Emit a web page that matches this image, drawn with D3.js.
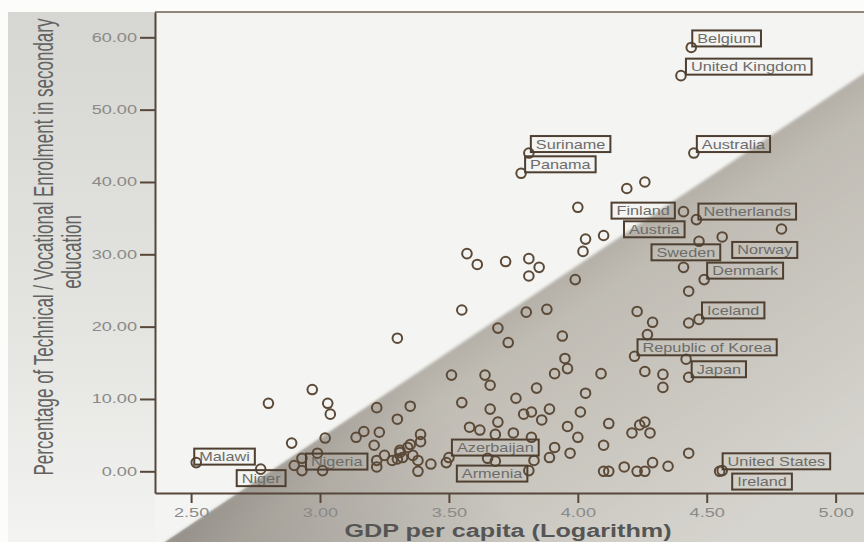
<!DOCTYPE html>
<html>
<head>
<meta charset="utf-8">
<script src="https://cdn.jsdelivr.net/npm/d3@7"></script>
<style>
body { margin: 0; background: #fff; }
svg { display: block; }
</style>
</head>
<body>
<svg></svg>
<script>
var width = 864;
var height = 542;
var svg = d3.select("svg");
svg.attr('width', width).attr('height', height);

// unlabelled countries: log10 GDP per capita, % technical/vocational enrolment
var gdpLog = [4.19, 4.26, 4.00, 4.79, 4.10, 4.03, 4.02, 4.43, 3.57, 3.61, 3.72, 3.81, 3.85, 3.81, 3.99,
  3.55, 3.80, 3.88, 4.23, 4.29, 4.43, 3.69, 3.73, 3.94, 4.27, 3.30, 4.42, 3.95, 3.96, 3.91, 4.09,
  4.26, 4.33, 4.33, 3.51, 3.64, 3.66, 3.84, 4.03, 3.76, 3.55, 3.66, 3.89, 4.01, 3.79, 3.82, 3.86,
  3.69, 3.96, 4.12, 4.21, 4.24, 4.26, 4.28, 3.58, 3.62, 3.68, 3.75, 3.82, 4.00, 3.91, 4.10, 4.43,
  4.29, 4.35, 4.18, 4.23, 4.26, 4.10, 4.12, 3.97, 3.89, 3.83, 3.65, 3.68, 3.35, 3.30, 3.39, 3.39,
  3.35, 3.34, 3.31, 3.36, 3.32, 3.30, 3.38, 3.43, 3.38, 3.49, 2.97, 2.80, 3.03, 3.04, 3.22, 2.89,
  3.02, 3.17, 3.23, 3.14, 3.21, 2.99, 2.93, 2.90, 3.01, 3.22, 3.22, 3.25, 3.28, 3.31];
var techPct = [39.1, 40.0, 36.5, 33.5, 32.6, 32.1, 30.4, 24.9, 30.1, 28.6, 29.0, 29.4, 28.2, 27.0, 26.5,
  22.3, 22.0, 22.4, 22.1, 20.6, 20.5, 19.8, 17.8, 18.7, 18.9, 18.4, 15.5, 15.6, 14.2, 13.5, 13.5,
  13.8, 13.4, 11.6, 13.3, 13.3, 11.9, 11.5, 10.8, 10.1, 9.5, 8.6, 8.6, 8.2, 7.9, 8.2, 7.1,
  6.8, 6.2, 6.6, 5.3, 6.4, 6.8, 5.3, 6.1, 5.7, 5.1, 5.3, 4.7, 4.7, 3.3, 3.6, 2.5,
  1.2, 0.7, 0.6, 0.0, 0.0, 0.0, 0.0, 2.5, 1.9, 1.5, 1.8, 1.4, 9.0, 7.2, 5.1, 4.1,
  3.7, 3.3, 2.6, 2.2, 1.9, 1.7, 1.5, 1.0, 0.0, 1.2, 11.3, 9.4, 9.4, 7.9, 8.8, 3.9,
  4.6, 5.5, 5.4, 4.7, 3.6, 2.5, 1.8, 0.8, 0.1, 1.5, 0.6, 2.2, 1.5, 2.9];

// labelled countries
var countryNames = ['Belgium', 'United Kingdom', 'Suriname', 'Panama', 'Australia', 'Finland',
  'Netherlands', 'Austria', 'Sweden', 'Norway', 'Denmark', 'Iceland', 'Republic of Korea', 'Japan',
  'United States', 'Ireland', 'Azerbaijan', 'Armenia', 'Nigeria', 'Niger', 'Malawi'];
var countryGdp = [4.44, 4.40, 3.81, 3.78, 4.45, 4.41, 4.46, 4.47, 4.41, 4.56, 4.49, 4.47, 4.22, 4.43,
  4.55, 4.56, 3.50, 3.81, 2.93, 2.77, 2.52];
var countryTech = [58.6, 54.7, 44.0, 41.2, 44.0, 35.9, 34.8, 31.8, 28.2, 32.4, 26.5, 21.0, 15.9, 13.0,
  0.0, 0.1, 1.9, 0.1, 0.1, 0.3, 1.2];

var xTicks = [2.5, 3.0, 3.5, 4.0, 4.5, 5.0];
var yTicks = [0, 10, 20, 30, 40, 50, 60];

// where each label box sits relative to its point (px)
var labelOffsets = [[1, -17], [5, -17], [2, -17], [4, -17], [3, -17], [-72, -9], [2, -16], [-75, -20],
  [-32, -23], [10, 5], [3, -17], [3, -17], [3, -17], [3, -16], [3, -18], [10, 3], [3, -18], [-72, -5],
  [4, -17], [-24, 1], [-2, -14]];

var font = '"Liberation Sans", Arial, sans-serif';
var ink = '#57473a';

var xScale = d3.scaleLinear().domain([2.36, 5.11]).range([155, 864]);
var yScale = d3.scaleLinear().domain([-3.0, 63.5]).range([493, 12]);

function stretch(sel, k) {
  sel.each(function() {
    var len = this.getComputedTextLength();
    d3.select(this).attr('textLength', len * k).attr('lengthAdjust', 'spacingAndGlyphs');
  });
}

// background: scanned page with a diagonal shadow
var defs = svg.append('defs');
var lg = defs.append('linearGradient').attr('id', 'margin')
  .attr('x1', 0).attr('y1', 0).attr('x2', 0).attr('y2', 1);
lg.append('stop').attr('offset', 0).attr('stop-color', '#d6d6d2');
lg.append('stop').attr('offset', 0.6).attr('stop-color', '#e4e4e1');
lg.append('stop').attr('offset', 1).attr('stop-color', '#f3f3f1');

var sh = defs.append('linearGradient').attr('id', 'shade').attr('gradientUnits', 'userSpaceOnUse')
  .attr('x1', 515).attr('y1', 307).attr('x2', 690).attr('y2', 568);
sh.append('stop').attr('offset', 0).attr('stop-color', '#b4b0a8');
sh.append('stop').attr('offset', 0.12).attr('stop-color', '#c0bcb4');
sh.append('stop').attr('offset', 1).attr('stop-color', '#d6d4ce');

var vg = defs.append('linearGradient').attr('id', 'vign').attr('gradientUnits', 'userSpaceOnUse')
  .attr('x1', 165).attr('y1', 542).attr('x2', 420).attr('y2', 372);
vg.append('stop').attr('offset', 0).attr('stop-color', '#4a4540').attr('stop-opacity', 0.3);
vg.append('stop').attr('offset', 1).attr('stop-color', '#4a4540').attr('stop-opacity', 0);

defs.append('filter').attr('id', 'soft').append('feGaussianBlur').attr('stdDeviation', 1.5);

svg.append('rect').attr('x', 0).attr('y', 0).attr('width', width).attr('height', height).attr('fill', '#fcfcfb');
svg.append('rect').attr('x', 8).attr('y', 12).attr('width', 147).attr('height', 530).attr('fill', 'url(#margin)');
svg.append('rect').attr('x', 155).attr('y', 12).attr('width', 709).attr('height', 530).attr('fill', '#f4f4f2');
svg.append('path').attr('d', 'M165,542L866,72L870,72L870,546L165,546Z')
  .attr('fill', 'url(#shade)').attr('filter', 'url(#soft)');
svg.append('path').attr('d', 'M165,542L866,72L870,72L870,546L165,546Z')
  .attr('fill', 'url(#vign)');

// frame and axes
svg.append('line').attr('x1', 155).attr('x2', 864).attr('y1', 12).attr('y2', 12)
  .attr('stroke', '#6e6052').attr('stroke-width', 1.5);

var yAxis = svg.append('g').attr('transform', 'translate(155,0)')
  .call(d3.axisLeft(yScale).tickValues(yTicks).tickFormat(d3.format('.2f'))
    .tickSize(15).tickSizeOuter(0).tickPadding(3));
var xAxis = svg.append('g').attr('transform', 'translate(0,493)')
  .call(d3.axisBottom(xScale).tickValues(xTicks).tickFormat(d3.format('.2f'))
    .tickSize(10).tickSizeOuter(0).tickPadding(5));

[xAxis, yAxis].forEach(function(ax) {
  ax.select('.domain').attr('stroke', ink).attr('stroke-width', 2);
  ax.selectAll('.tick line').attr('stroke', ink).attr('stroke-width', 2);
  ax.selectAll('.tick text').attr('fill', '#8a8a88').style('font-family', font).style('font-size', '12.5px')
    .call(stretch, 1.45);
});

// points
svg.append('g').selectAll('circle')
  .data(gdpLog.map(function(d, i) { return [d, techPct[i]]; }))
  .enter()
  .append('circle')
  .attr('cx', function(d) { return xScale(d[0]); })
  .attr('cy', function(d) { return yScale(d[1]); })
  .attr('r', 4.8)
  .attr('fill', 'none')
  .attr('stroke', '#5c4a38')
  .attr('stroke-width', 2);

svg.append('g').selectAll('circle')
  .data(countryNames)
  .enter()
  .append('circle')
  .attr('cx', function(d, i) { return xScale(countryGdp[i]); })
  .attr('cy', function(d, i) { return yScale(countryTech[i]); })
  .attr('r', 4.8)
  .attr('fill', 'none')
  .attr('stroke', '#5c4a38')
  .attr('stroke-width', 2);

// labels
var labels = svg.append('g').selectAll('g')
  .data(countryNames)
  .enter()
  .append('g')
  .attr('transform', function(d, i) {
    return 'translate(' + (xScale(countryGdp[i]) + labelOffsets[i][0]) + ',' +
      (yScale(countryTech[i]) + labelOffsets[i][1]) + ')';
  });

labels.append('text')
  .text(function(d) { return d; })
  .attr('x', 5)
  .attr('y', 12.5)
  .attr('fill', '#6c6c6a')
  .style('font-family', font)
  .style('font-size', '13px')
  .call(stretch, 1.25);

labels.each(function() {
  var g = d3.select(this);
  var w = +g.select('text').attr('textLength');
  g.append('rect').attr('x', 0).attr('y', 0).attr('width', w + 10).attr('height', 16)
    .attr('fill', 'none').attr('stroke', '#4e3f31').attr('stroke-width', 2);
});

// axis titles
svg.append('text')
  .text('GDP per capita (Logarithm)')
  .attr('x', 508).attr('y', 537)
  .attr('text-anchor', 'middle')
  .attr('fill', '#555555')
  .style('font-family', font).style('font-size', '18px').style('font-weight', 'bold')
  .call(stretch, 1.4);

// y title is condensed along its reading direction with a scale
svg.append('text')
  .text('Percentage of Technical / Vocational Enrolment in secondary')
  .attr('transform', 'translate(53,247) rotate(-90) scale(0.63,1)')
  .attr('text-anchor', 'middle')
  .attr('fill', '#636361')
  .style('font-family', font).style('font-size', '27px');

svg.append('text')
  .text('education')
  .attr('transform', 'translate(81,252) rotate(-90) scale(0.63,1)')
  .attr('text-anchor', 'middle')
  .attr('fill', '#636361')
  .style('font-family', font).style('font-size', '27px');
</script>
</body>
</html>
